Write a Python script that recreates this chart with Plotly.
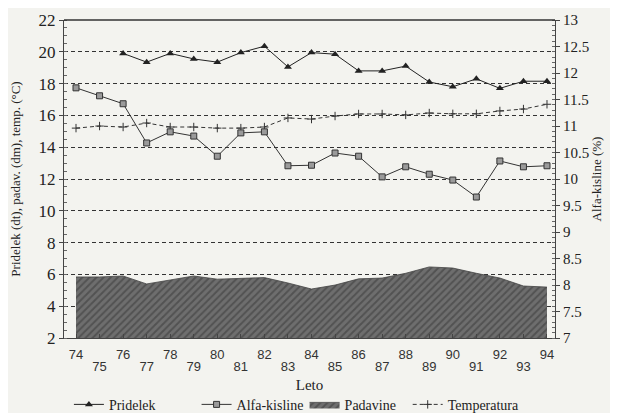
import plotly.graph_objects as go

years = list(range(74, 95))
even_years = [y for y in years if y % 2 == 0]
odd_years = [y for y in years if y % 2 == 1]
pridelek_years = list(range(76, 95))
pridelek = [19.9, 19.35, 19.9, 19.55, 19.35, 19.95, 20.35, 19.05, 19.95, 19.85,
            18.8, 18.8, 19.1, 18.1, 17.8, 18.3, 17.7, 18.15, 18.15]
alfa = [11.72, 11.57, 11.42, 10.68, 10.89, 10.81, 10.43, 10.87, 10.89, 10.25,
        10.26, 10.49, 10.43, 10.04, 10.23, 10.09, 9.98, 9.66, 10.34, 10.23, 10.25]
padavine = [5.84, 5.84, 5.9, 5.4, 5.65, 5.9, 5.7, 5.77, 5.8, 5.46,
            5.08, 5.33, 5.72, 5.77, 6.07, 6.47, 6.4, 6.07, 5.77, 5.27, 5.2]
temperatura = [15.2, 15.33, 15.27, 15.52, 15.27, 15.27, 15.2, 15.2, 15.27, 15.84,
               15.77, 15.96, 16.09, 16.09, 16.03, 16.15, 16.1, 16.1, 16.28, 16.4, 16.7]

serif = "Liberation Serif"
sans = "Liberation Sans"
x_range = [73.49, 94.34]

fig = go.Figure()

fig.add_trace(go.Scatter(
    x=years, y=padavine, name="Padavine", mode="lines",
    line=dict(color="#444444", width=0.8),
    fill="tozeroy", fillcolor="#5e5e5e",
    fillpattern=dict(shape="/", fgcolor="#353535", bgcolor="#6e6e6e", size=5, solidity=0.4),
    legend="legend3",
))

fig.add_trace(go.Scatter(
    x=pridelek_years, y=pridelek, name="Pridelek", mode="lines+markers",
    line=dict(color="#222222", width=1),
    marker=dict(symbol="triangle-up", size=7, color="#222222"),
    legend="legend",
))

fig.add_trace(go.Scatter(
    x=years, y=temperatura, name="Temperatura", mode="lines+markers",
    line=dict(color="#333333", width=1, dash="4px,3px"),
    marker=dict(symbol="cross-thin", size=6, line=dict(color="#333333", width=1)),
    legend="legend4",
))

fig.add_trace(go.Scatter(
    x=years, y=alfa, name="Alfa-kisline", mode="lines+markers", yaxis="y2",
    line=dict(color="#333333", width=1),
    marker=dict(symbol="square", size=6, color="#9a9a9a", line=dict(color="#333333", width=1)),
    legend="legend2",
))

# empty helper trace so the odd-year label axis is drawn
fig.add_trace(go.Scatter(x=[], y=[], xaxis="x2", showlegend=False, hoverinfo="skip"))

leg_common = dict(orientation="h", y=-0.21, yanchor="middle", xanchor="left",
                  font=dict(family=serif, size=14, color="#222"), bgcolor="rgba(0,0,0,0)",
                  itemwidth=30)

# page body has an 8px default margin, so the figure is 8px smaller and shifted
fig.update_layout(
    width=610, height=405,
    margin=dict(l=56, r=63, t=12, b=75, autoexpand=False),
    paper_bgcolor="#f3f3ef", plot_bgcolor="#f3f3ef",
    showlegend=True,
    legend=dict(x=0.01, **leg_common),
    legend2=dict(x=0.27, **leg_common),
    legend3=dict(x=0.49, **leg_common),
    legend4=dict(x=0.70, **leg_common),
    xaxis=dict(
        range=x_range, tickvals=even_years, ticktext=[str(y) for y in even_years],
        tickfont=dict(family=sans, size=13, color="#333"),
        showgrid=False, zeroline=False,
        showline=True, linecolor="#444", linewidth=1, mirror=False,
        ticks="inside", ticklen=4, tickcolor="#444", ticklabelstandoff=4,
        title=dict(text="Leto", font=dict(family=serif, size=15, color="#222"), standoff=18),
    ),
    xaxis2=dict(
        range=x_range, overlaying="x", side="bottom", anchor="y",
        tickvals=odd_years, ticktext=[str(y) for y in odd_years],
        tickfont=dict(family=sans, size=13, color="#333"),
        showgrid=False, zeroline=False, showline=False,
        ticks="inside", ticklen=4, tickcolor="#444", ticklabelstandoff=19,
    ),
    yaxis=dict(
        range=[2, 22], tickvals=list(range(2, 23, 2)),
        tickfont=dict(family=serif, size=17, color="#222"),
        showgrid=True, gridcolor="#333", griddash="4px,3px", gridwidth=1,
        zeroline=False, showline=True, linecolor="#444", linewidth=1,
        ticks="outside", ticklen=4, tickcolor="#444",
        minor=dict(dtick=0.5, ticks="inside", ticklen=3, tickcolor="#666", showgrid=False),
        title=dict(text="Pridelek (dt), padav. (dm), temp. (°C)",
                   font=dict(family=serif, size=13, color="#222"), standoff=16),
    ),
    yaxis2=dict(
        range=[7, 13], dtick=0.5, overlaying="y", side="right",
        tickfont=dict(family=serif, size=15, color="#222"),
        showgrid=False, zeroline=False, showline=True, linecolor="#444", linewidth=1,
        ticks="outside", ticklen=4, tickcolor="#444",
        minor=dict(dtick=0.1, ticks="inside", ticklen=3, tickcolor="#666"),
        title=dict(text="Alfa-kisline (%)", font=dict(family=serif, size=13, color="#222"), standoff=2),
    ),
)

fig.add_shape(type="line", xref="paper", yref="paper", x0=0, x1=1, y0=1, y1=1,
              line=dict(color="#333", width=1.5))

fig.write_html("out.html")
